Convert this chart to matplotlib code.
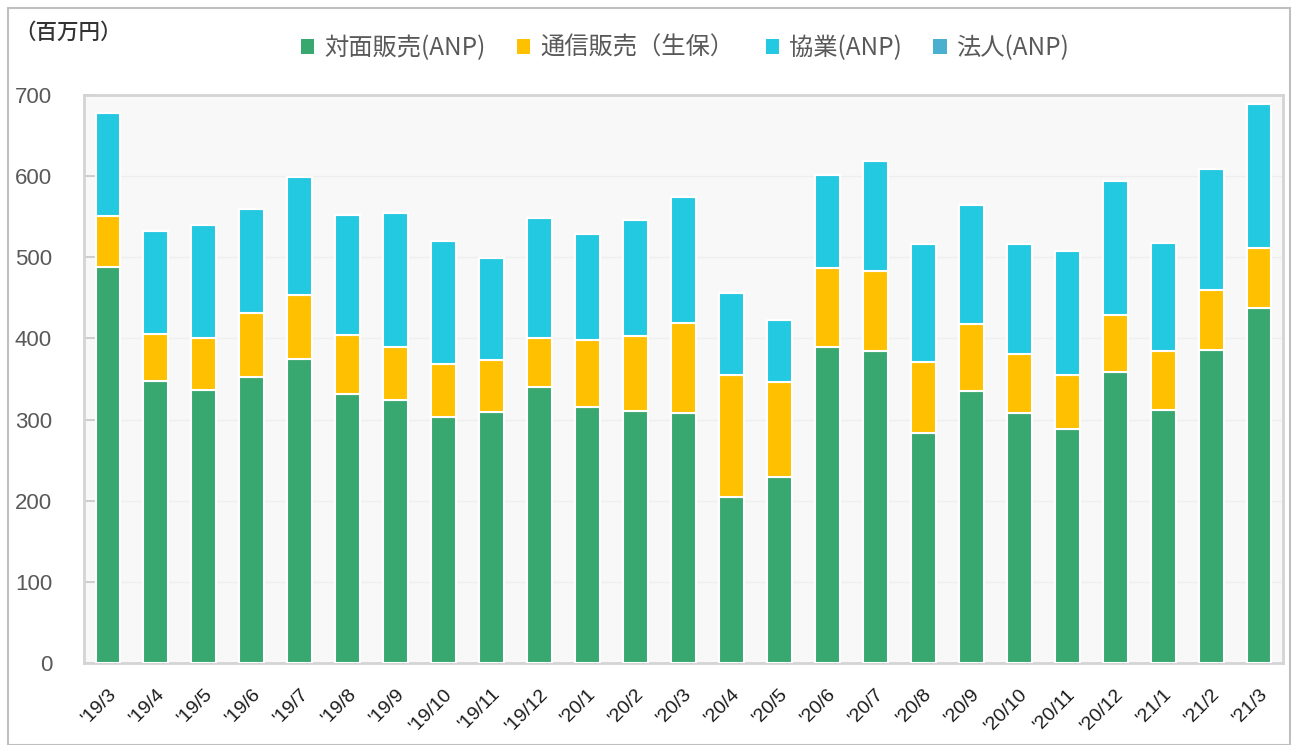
import matplotlib
matplotlib.use("Agg")
import matplotlib.pyplot as plt
from matplotlib.patches import Rectangle, Patch
import numpy as np

plt.rcParams['font.family'] = ['Liberation Sans', 'Noto Sans CJK JP', 'DejaVu Sans']

months = ["'19/3", "'19/4", "'19/5", "'19/6", "'19/7", "'19/8", "'19/9", "'19/10",
          "'19/11", "'19/12", "'20/1", "'20/2", "'20/3", "'20/4", "'20/5", "'20/6",
          "'20/7", "'20/8", "'20/9", "'20/10", "'20/11", "'20/12", "'21/1", "'21/2", "'21/3"]

# 対面販売(ANP)
face = [488, 347, 337, 353, 375, 331, 324, 303, 309, 340, 315, 310, 308,
        205, 229, 390, 385, 284, 335, 308, 288, 359, 312, 386, 438]
# 通信販売（生保）
mail = [63, 58, 64, 78, 79, 73, 65, 66, 65, 61, 83, 93, 111,
        150, 117, 97, 98, 87, 83, 73, 67, 70, 73, 74, 73]
# 協業(ANP)
collab = [127, 128, 139, 128, 145, 148, 166, 151, 125, 148, 131, 143, 155,
          101, 77, 114, 136, 145, 147, 135, 153, 165, 133, 149, 178]
# 法人(ANP)
corp = [0] * 25

names = ["対面販売(ANP)", "通信販売（生保）", "協業(ANP)", "法人(ANP)"]
colors = ["#38A870", "#FFC000", "#23C8E1", "#4BB0D0"]

fig = plt.figure(figsize=(12.95, 7.45), dpi=100)
ax = fig.add_axes([84/1295, 1 - 663/745, 1199/1295, 568/745])
ax.set_facecolor("#F8F8F8")

x = np.arange(len(months))
bottom = np.zeros(len(months))
for vals, c in zip([face, mail, collab, corp], colors):
    vals = np.array(vals, dtype=float)
    ax.bar(x, vals, width=0.52, bottom=bottom, color=c, edgecolor="white", linewidth=1.5, zorder=3)
    bottom += vals

ax.set_xlim(-0.5, len(months) - 0.5)
ax.set_ylim(0, 700)
ax.set_yticks(range(0, 701, 100))
ax.yaxis.grid(True, color="#EEEEEE", linewidth=1, zorder=0)
for s in ax.spines.values():
    s.set_color("#D4D4D4")
    s.set_linewidth(2)

ax.tick_params(axis="y", direction="in", length=8, width=1.2, color="#C8C8C8",
               labelsize=16, labelcolor="#595959", pad=23)
ax.tick_params(axis="x", length=0, pad=16)
ax.set_xticks(x)
ax.set_xticklabels(months, rotation=45, ha="right", rotation_mode="anchor",
                   fontsize=14, color="#1A1A1A")

fig.text(14/1295, 1 - 33/745, "（百万円）", fontsize=15.5, color="#333333",
         family=["Noto Sans CJK JP"], weight="medium", va="center", ha="left")

handles = [Patch(facecolor=c, edgecolor="none") for c in colors]
fig.legend(handles, names, loc="center", bbox_to_anchor=(685/1295, 1 - 48/745), ncol=4,
           frameon=False, prop={"family": ["Noto Sans CJK JP"], "size": 17.5},
           labelcolor="#595959", handlelength=0.55, handleheight=0.55,
           handletextpad=0.4, columnspacing=1.3)

fig.patches.append(Rectangle((8/1295, 0), 1282/1295, 1 - 8/745, transform=fig.transFigure,
                             fill=False, edgecolor="#BFBFBF", linewidth=1.5))

fig.savefig("out.png", dpi=100)
